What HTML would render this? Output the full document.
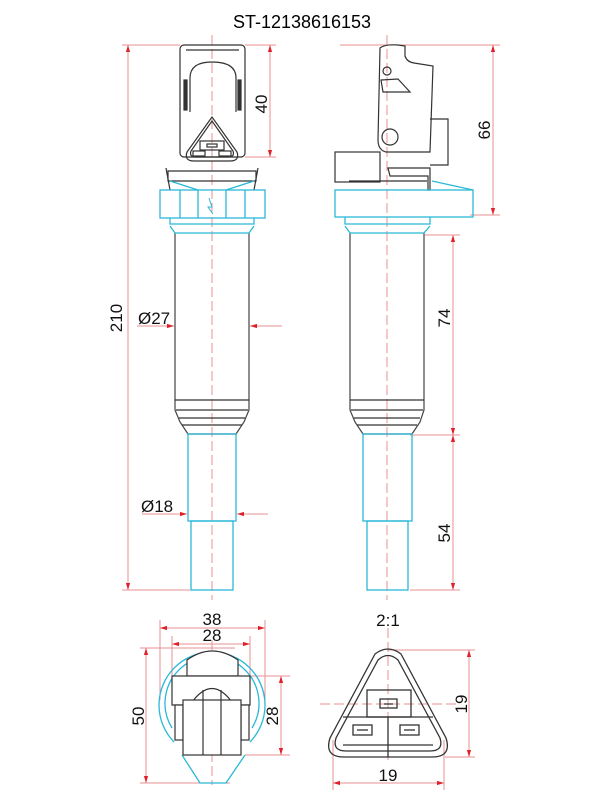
<!DOCTYPE html>
<html><head><style>body{margin:0;background:#fff}svg{display:block}</style></head><body>
<svg width="600" height="800" viewBox="0 0 600 800" xmlns="http://www.w3.org/2000/svg" font-family="Liberation Sans, sans-serif">
<defs>
<marker id="a" viewBox="0 0 10 10" refX="10" refY="5" markerWidth="7" markerHeight="7" orient="auto-start-reverse"><path d="M0,2 L10,5 L0,8z" fill="#e0202a"/></marker>
</defs>
<rect width="600" height="800" fill="#fff"/>
<text x="302" y="28" font-size="18" text-anchor="middle">ST-12138616153</text>

<g stroke="#e89090" stroke-width="1" fill="none">
<line x1="212" y1="35" x2="212" y2="600" stroke-dasharray="10,4"/>
<line x1="387" y1="35" x2="387" y2="600" stroke-dasharray="10,4"/>
<line x1="388" y1="628" x2="388" y2="760" stroke-dasharray="10,4"/>
<line x1="320" y1="704" x2="460" y2="704" stroke-dasharray="10,4"/>
<line x1="212" y1="640" x2="212" y2="785" stroke-dasharray="10,4"/>
<line x1="122" y1="45" x2="180" y2="45"/><line x1="245" y1="45" x2="276" y2="45"/>
<line x1="245" y1="157" x2="276" y2="157"/>
<line x1="122" y1="590" x2="190" y2="590"/>
<line x1="410" y1="590" x2="460" y2="590"/>
<line x1="340" y1="45" x2="500" y2="45"/>
<line x1="470" y1="215" x2="500" y2="215"/>
<line x1="425" y1="235" x2="460" y2="235"/>
<line x1="410" y1="435" x2="460" y2="435"/>
<line x1="128" y1="45" x2="128" y2="590" marker-start="url(#a)" marker-end="url(#a)"/>
<line x1="270" y1="45" x2="270" y2="157" marker-start="url(#a)" marker-end="url(#a)"/>
<line x1="493" y1="45" x2="493" y2="215" marker-start="url(#a)" marker-end="url(#a)"/>
<line x1="453" y1="235" x2="453" y2="435" marker-start="url(#a)" marker-end="url(#a)"/>
<line x1="453" y1="435" x2="453" y2="590" marker-start="url(#a)" marker-end="url(#a)"/>
<line x1="137" y1="326" x2="174" y2="326" marker-end="url(#a)"/>
<line x1="282" y1="326" x2="250" y2="326" marker-end="url(#a)"/>
<line x1="142" y1="514" x2="187" y2="514" marker-end="url(#a)"/>
<line x1="268" y1="514" x2="237" y2="514" marker-end="url(#a)"/>
<line x1="160" y1="620" x2="160" y2="700"/><line x1="265" y1="620" x2="265" y2="700"/>
<line x1="172" y1="636" x2="172" y2="680"/><line x1="250" y1="636" x2="250" y2="680"/>
<line x1="160" y1="628" x2="265" y2="628" marker-start="url(#a)" marker-end="url(#a)"/>
<line x1="172" y1="644" x2="250" y2="644" marker-start="url(#a)" marker-end="url(#a)"/>
<line x1="140" y1="648" x2="235" y2="648"/><line x1="140" y1="783" x2="230" y2="783"/>
<line x1="146" y1="648" x2="146" y2="783" marker-start="url(#a)" marker-end="url(#a)"/>
<line x1="245" y1="676" x2="290" y2="676"/><line x1="245" y1="755" x2="290" y2="755"/>
<line x1="281" y1="676" x2="281" y2="755" marker-start="url(#a)" marker-end="url(#a)"/>
<line x1="388" y1="650" x2="475" y2="650"/><line x1="445" y1="757" x2="475" y2="757"/>
<line x1="469" y1="650" x2="469" y2="757" marker-start="url(#a)" marker-end="url(#a)"/>
<line x1="333" y1="740" x2="333" y2="790"/><line x1="444" y1="740" x2="444" y2="790"/>
<line x1="333" y1="783" x2="444" y2="783" marker-start="url(#a)" marker-end="url(#a)"/>
</g>

<g font-size="17" fill="#111">
<text transform="translate(122,318) rotate(-90)" text-anchor="middle">210</text>
<text transform="translate(267,104) rotate(-90)" text-anchor="middle">40</text>
<text transform="translate(490,130) rotate(-90)" text-anchor="middle">66</text>
<text transform="translate(450,318) rotate(-90)" text-anchor="middle">74</text>
<text transform="translate(450,533) rotate(-90)" text-anchor="middle">54</text>
<text x="138" y="324">Ø27</text>
<text x="141" y="512">Ø18</text>
<text x="212" y="625" text-anchor="middle">38</text>
<text x="212" y="641" text-anchor="middle">28</text>
<text transform="translate(144,716) rotate(-90)" text-anchor="middle">50</text>
<text transform="translate(278,716) rotate(-90)" text-anchor="middle">28</text>
<text x="388" y="626" text-anchor="middle">2:1</text>
<text transform="translate(467,704) rotate(-90)" text-anchor="middle">19</text>
<text x="388" y="781" text-anchor="middle">19</text>
</g>

<!-- LEFT coil -->
<g stroke="#333" stroke-width="1.2" fill="none">
<rect x="180" y="45" width="65" height="112" rx="4"/>
<path d="M190,112 V78 Q190,62 212,62 Q236,62 236,78 V112"/>
<line x1="186" y1="50" x2="239" y2="50"/>
<rect x="184" y="80" width="3" height="30" fill="#333"/><rect x="238" y="80" width="3" height="30" fill="#333"/>
<path d="M212,117 L187,152 Q184,161 194,161 L230,161 Q240,161 237,152 Z"/>
<path d="M212,121 L191,151 Q189,157 196,157 L228,157 Q235,157 233,151 Z"/>
<rect x="200" y="141" width="24" height="9"/>
<rect x="207" y="144" width="10" height="3"/>
<rect x="193" y="151" width="12" height="5"/><rect x="219" y="151" width="12" height="5"/>
<path d="M168,171 H256 V181 H168 Z"/>
<path d="M166,168 L170,190 M258,168 L254,190"/>
<path d="M175,233 V410 L180,422 L188,434 H236 L244,422 L249,410 V233" stroke="#444"/>
<line x1="175" y1="400" x2="249" y2="400"/><line x1="176" y1="410" x2="248" y2="410"/>
<line x1="179" y1="418" x2="245" y2="418"/><line x1="182" y1="425" x2="242" y2="425"/>
</g>
<g stroke="#29b8d8" stroke-width="1.3" fill="none">
<rect x="160" y="190" width="105" height="28"/>
<line x1="180" y1="190" x2="180" y2="218"/><line x1="198" y1="190" x2="198" y2="218"/>
<line x1="226" y1="190" x2="226" y2="218"/><line x1="245" y1="190" x2="245" y2="218"/>
<path d="M170,181 L198,190 M254,181 L226,190"/>
<path d="M170,218 V224 H254 V218 M170,226 L175,233 H249 L254,226"/>
<path d="M209,198 L212,207 L208,207 L213,214" stroke-width="1"/>
<rect x="188" y="434" width="48" height="87"/>
<rect x="191" y="521" width="42" height="69"/>
</g>

<!-- RIGHT coil -->
<g stroke="#333" stroke-width="1.2" fill="none">
<path d="M380,48 Q385,44 398,45 L405,46 L405,56 Q407,62 414,63 L433,66 L430,152 L386,152 Q378,150 378,140 Z"/>
<circle cx="387" cy="71" r="4"/>
<circle cx="390" cy="137" r="8"/>
<path d="M381,80 L398,79 L410,92 L383,92 Z"/>
<path d="M430,119 L448,119 L448,165 L430,165"/>
<rect x="335" y="152" width="45" height="30"/>
<path d="M388,168 H430 V190 H428 V176 H390 Z"/>
<line x1="349" y1="181" x2="427" y2="181"/>
<path d="M350,233 V410 L355,422 L363,434 H412 L420,422 L424,410 V233" stroke="#444"/>
<line x1="350" y1="400" x2="424" y2="400"/><line x1="351" y1="410" x2="423" y2="410"/>
<line x1="354" y1="418" x2="420" y2="418"/><line x1="357" y1="425" x2="417" y2="425"/>
</g>
<g stroke="#29b8d8" stroke-width="1.3" fill="none">
<rect x="335" y="190" width="138" height="27"/>
<path d="M432,181 L473,190"/>
<path d="M345,217 V224 H430 V217 M345,226 L350,233 H424 L430,226"/>
<rect x="363" y="434" width="49" height="87"/>
<rect x="367" y="521" width="41" height="69"/>
</g>

<!-- bottom left view -->
<g stroke="#29b8d8" stroke-width="1.3" fill="none">
<path d="M174,742 A53,53 0 1 1 250,742"/>
<path d="M172,728 A47,47 0 1 1 252,728"/>
<path d="M182,755 L200,783 H226 L245,755"/>
</g>
<g stroke="#333" stroke-width="1.2" fill="#fff">
<path d="M187,676 V660 Q212,642 238,660 V676 Z"/>
<rect x="172" y="676" width="78" height="29"/>
<path d="M190,705 Q212,672 234,705" fill="none"/>
<line x1="203" y1="690" x2="203" y2="705"/><line x1="221" y1="690" x2="221" y2="705"/>
<rect x="175" y="705" width="8" height="35"/><rect x="241" y="705" width="8" height="35"/>
<rect x="183" y="700" width="58" height="55"/>
<line x1="203" y1="700" x2="203" y2="755"/><line x1="221" y1="700" x2="221" y2="755"/>
</g>

<!-- bottom right view -->
<g stroke="#333" stroke-width="1.3" fill="none">
<path d="M375,654 Q388,644 401,654 L446,738 Q452,757 432,757 L344,757 Q324,757 330,738 Z"/>
<path d="M378,660 Q388,651 398,660 L440,738 Q444,751 430,751 L346,751 Q332,751 336,738 Z"/>
<rect x="367" y="690" width="44" height="27"/>
<rect x="380" y="699" width="17" height="9"/><line x1="384" y1="704" x2="393" y2="704"/>
<path d="M343,717 H433 M343,745 H433 M388,717 V757"/>
<rect x="353" y="725" width="19" height="10"/><line x1="357" y1="730" x2="368" y2="730"/>
<rect x="400" y="725" width="19" height="10"/><line x1="404" y1="730" x2="415" y2="730"/>
</g>
</svg>
</body></html>
